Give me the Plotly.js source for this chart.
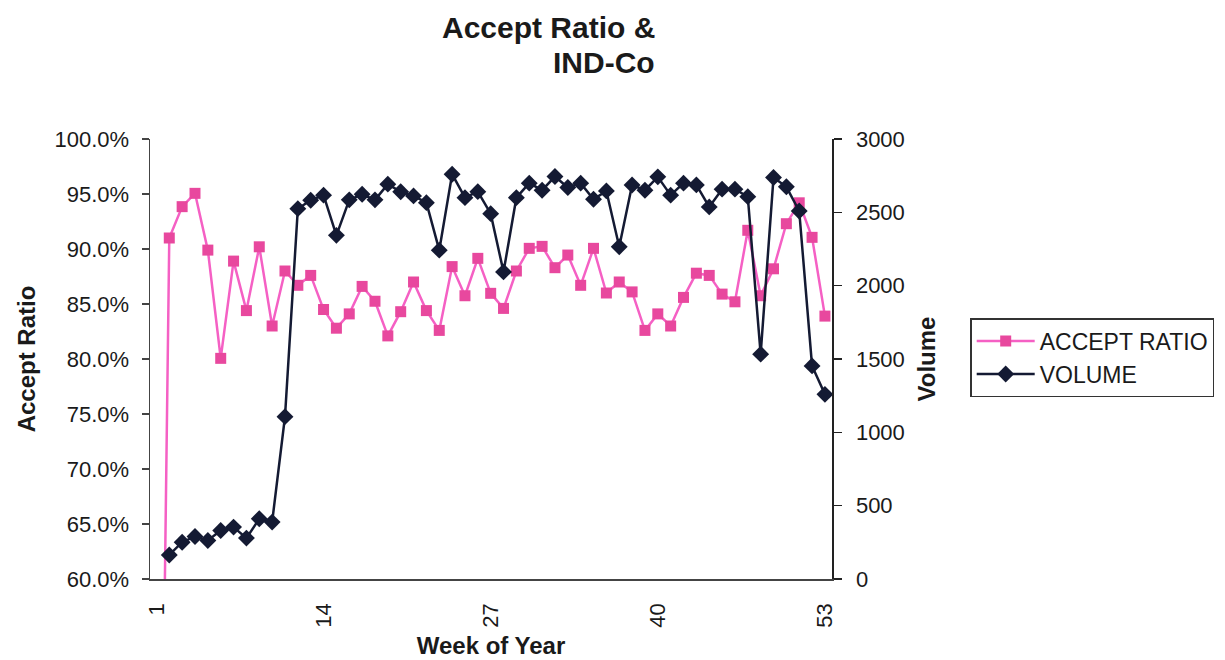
<!DOCTYPE html>
<html>
<head>
<meta charset="utf-8">
<script src="https://cdn.plot.ly/plotly-3.0.1.min.js"></script>
<style>html,body{margin:0;padding:0;background:#fff;}#chart{width:1225px;height:660px;}</style>
</head>
<body>
<div id="chart"></div>
<script>
const weeks = [1,2,3,4,5,6,7,8,9,10,11,12,13,14,15,16,17,18,19,20,21,22,23,24,25,26,27,28,29,30,31,32,33,34,35,36,37,38,39,40,41,42,43,44,45,46,47,48,49,50,51,52,53];
const acceptRatio = [0, 0.910, 0.9385, 0.9506, 0.899, 0.8006, 0.889, 0.844, 0.902, 0.830, 0.880, 0.867, 0.876, 0.845, 0.828, 0.841, 0.866, 0.8525, 0.821, 0.843, 0.870, 0.844, 0.826, 0.884, 0.8575, 0.8915, 0.8597, 0.846, 0.880, 0.9006, 0.9024, 0.883, 0.8945, 0.867, 0.9006, 0.860, 0.870, 0.861, 0.826, 0.841, 0.830, 0.856, 0.878, 0.876, 0.859, 0.852, 0.917, 0.8575, 0.882, 0.923, 0.942, 0.9106, 0.839];
const volume = [null, 164, 251, 290, 263, 331, 354, 279, 411, 388, 1107, 2525, 2582, 2617, 2343, 2585, 2623, 2585, 2692, 2640, 2612, 2566, 2242, 2760, 2600, 2641, 2491, 2094, 2600, 2699, 2651, 2744, 2669, 2699, 2589, 2646, 2265, 2686, 2651, 2742, 2617, 2699, 2687, 2537, 2658, 2658, 2607, 1533, 2737, 2674, 2509, 1453, 1259];
const labelWeeks = [1, 14, 27, 40, 53];
const tickBounds = [0.5, 13.5, 26.5, 39.5, 52.5];
const leftTicks = [0.6, 0.65, 0.7, 0.75, 0.8, 0.85, 0.9, 0.95, 1.0];
const rightTicks = [0, 500, 1000, 1500, 2000, 2500, 3000];

const F = 'Liberation Sans, Arial, sans-serif';
const xr = [0.5, 53.55];
const axisCol = '#444';

const traces = [
  {x: weeks, y: acceptRatio, name: 'ACCEPT RATIO', type: 'scatter', mode: 'lines+markers',
   line: {color: '#F560C4', width: 2.5}, marker: {symbol: 'square', size: 11, color: '#E8489E'},
   xaxis: 'x', yaxis: 'y'},
  {x: weeks, y: volume, name: 'VOLUME', type: 'scatter', mode: 'lines+markers',
   line: {color: '#141a33', width: 2.5}, marker: {symbol: 'diamond', size: 13, color: '#141a33'},
   xaxis: 'x', yaxis: 'y2'}
];

const tickFont = {family: F, size: 22, color: '#1a1a1a'};
const layout = {
  width: 1225, height: 660,
  margin: {l: 150, r: 393, t: 139, b: 81},
  paper_bgcolor: '#fff', plot_bgcolor: '#fff',
  showlegend: true,
  legend: {xref: 'container', yref: 'container', x: 0.792, y: 0.518, xanchor: 'left', yanchor: 'top',
    bordercolor: '#333', borderwidth: 1.5, font: {family: F, size: 23, color: '#1a1a1a'}, itemwidth: 58,
    bgcolor: '#fff'},
  xaxis: {range: xr, tickvals: labelWeeks, ticktext: labelWeeks.map(String), tickangle: -90,
    ticks: '', showgrid: false, zeroline: false, showline: true, linecolor: axisCol, linewidth: 1.5,
    tickfont: tickFont, ticklabelstandoff: 14,
    title: {text: 'Week of Year', font: {family: F, size: 24, color: '#1a1a1a', weight: 'bold'}, standoff: 10}},
  xaxis2: {range: xr, overlaying: 'x', anchor: 'y', side: 'bottom', tickvals: tickBounds,
    showticklabels: false, ticks: 'outside', ticklen: 7, tickcolor: axisCol, tickwidth: 1.5,
    showgrid: false, zeroline: false, showline: false},
  xaxis3: {range: xr, overlaying: 'x', anchor: 'y', side: 'bottom', tickvals: tickBounds,
    showticklabels: false, ticks: 'inside', ticklen: 7, tickcolor: axisCol, tickwidth: 1.5,
    showgrid: false, zeroline: false, showline: false},
  yaxis: {range: [0.6, 1.0], tickvals: leftTicks, tickformat: '.1%', ticks: 'outside', ticklen: 7,
    tickcolor: axisCol, tickwidth: 1.5, showgrid: false, zeroline: false, showline: true,
    linecolor: axisCol, linewidth: 1.5, tickfont: tickFont, ticklabelstandoff: 8,
    title: {text: 'Accept Ratio', font: {family: F, size: 24, color: '#1a1a1a', weight: 'bold'}, standoff: 12}},
  yaxis3: {range: [0.6, 1.0], overlaying: 'y', anchor: 'x', side: 'left', tickvals: leftTicks,
    showticklabels: false, ticks: 'inside', ticklen: 7, tickcolor: axisCol, tickwidth: 1.5,
    showgrid: false, zeroline: false, showline: false},
  yaxis2: {range: [0, 3000], overlaying: 'y', anchor: 'x', side: 'right', tickvals: rightTicks,
    ticks: 'outside', ticklen: 8, tickcolor: '#222', tickwidth: 1.5, showgrid: false, zeroline: false,
    showline: true, linecolor: '#222', linewidth: 1.5, tickfont: tickFont, ticklabelstandoff: 10,
    title: {text: 'Volume', font: {family: F, size: 24, color: '#1a1a1a', weight: 'bold'}, standoff: 14}},
  yaxis4: {range: [0, 3000], overlaying: 'y', anchor: 'x', side: 'right', tickvals: rightTicks,
    showticklabels: false, ticks: 'inside', ticklen: 8, tickcolor: '#222', tickwidth: 1.5,
    showgrid: false, zeroline: false, showline: false},
  annotations: [
    {xref: 'paper', yref: 'paper', x: (440 - 150) / 682, y: 1 + (139 - 27) / 440, xanchor: 'left', yanchor: 'middle',
     text: '<b>Accept Ratio &amp;</b>', showarrow: false, font: {family: F, size: 30, color: '#1a1a1a'}},
    {xref: 'paper', yref: 'paper', x: (551 - 150) / 682, y: 1 + (139 - 63) / 440, xanchor: 'left', yanchor: 'middle',
     text: '<b>IND-Co</b>', showarrow: false, font: {family: F, size: 30, color: '#1a1a1a'}}
  ]
};

Plotly.newPlot('chart', traces, layout, {displayModeBar: false, staticPlot: true});
</script>
</body>
</html>
